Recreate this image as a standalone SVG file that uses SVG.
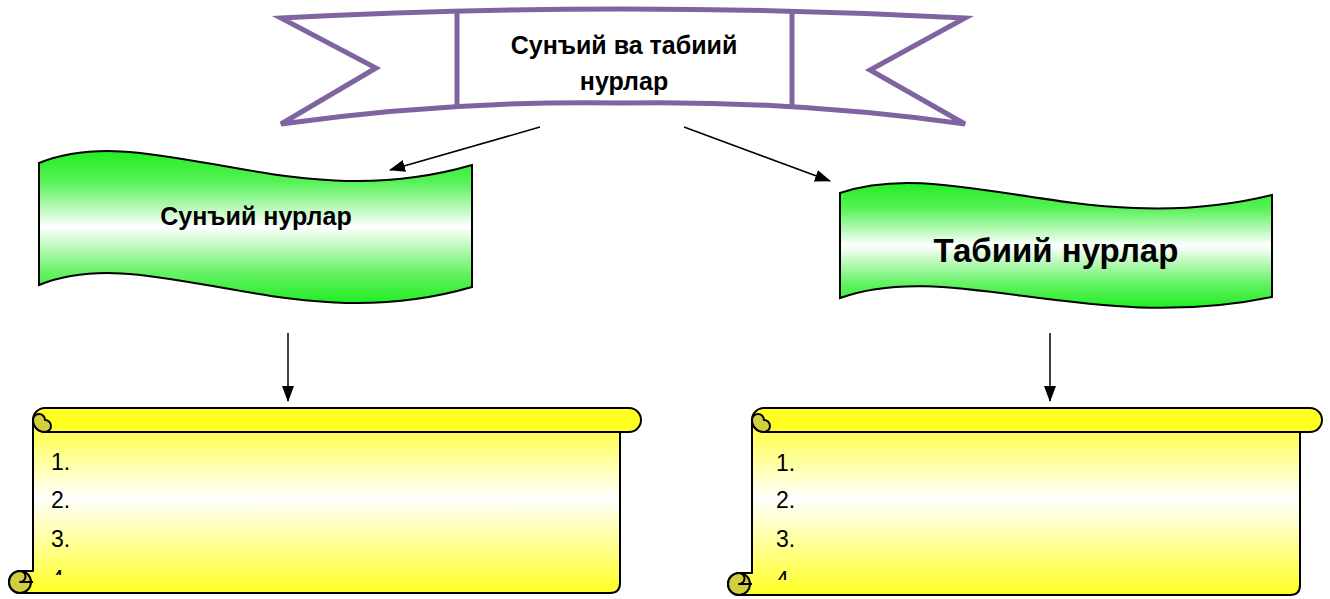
<svg xmlns="http://www.w3.org/2000/svg" width="1330" height="599" viewBox="0 0 1330 599">
  <style>
    .title { font-family: "Liberation Sans", Arial, sans-serif; font-weight: bold; fill: #000; text-anchor: middle; }
    .num { font-family: "Liberation Sans", Arial, sans-serif; font-size: 23px; fill: #000; }
    .ribbon { fill: #fff; stroke: #8064A2; stroke-width: 5; stroke-linejoin: miter; }
    .wave { stroke: #000; stroke-width: 2; }
    .scroll { stroke: #000; stroke-width: 2; stroke-linejoin: round; }
    .roll { fill: #FFFF22; }
    .curl { fill: #CFCF40; }
    .conn { stroke: #000; stroke-width: 1.5; fill: none; marker-end: url(#arrow); }
  </style>
  <defs>
    <marker id="arrow" viewBox="0 0 16 12" refX="15" refY="6" markerWidth="16" markerHeight="12" markerUnits="userSpaceOnUse" orient="auto">
      <path d="M0,0 L16,6 L0,12 Z" fill="#000"/>
    </marker>
    <linearGradient id="greenGrad" x1="0" y1="0" x2="0" y2="1">
      <stop offset="0" stop-color="#22EE22"/>
      <stop offset="0.2" stop-color="#55F255"/>
      <stop offset="0.5" stop-color="#FFFFFF"/>
      <stop offset="0.8" stop-color="#66F266"/>
      <stop offset="1" stop-color="#22EE22"/>
    </linearGradient>
    <linearGradient id="yellowGrad" x1="0" y1="0" x2="0" y2="1">
      <stop offset="0" stop-color="#FFFF33"/>
      <stop offset="0.45" stop-color="#FFFFFF"/>
      <stop offset="1" stop-color="#FFFF22"/>
    </linearGradient>
    <clipPath id="clipLeft"><rect x="40" y="440" width="560" height="135"/></clipPath>
    <clipPath id="clipRight"><rect x="760" y="440" width="520" height="140"/></clipPath>
  </defs>

  <!-- top ribbon -->
  <g id="node-root">
    <path class="ribbon" d="M281,18 Q623,0 965,18 L870,70 L965,124 Q790,100 623,103 Q456,100 281,124 L376,68 Z"/>
    <path class="ribbon" d="M457,13 L457,108 M792,13 L792,108" fill="none"/>
    <text class="title" x="624" y="54" font-size="25">Сунъий ва табиий</text>
    <text class="title" x="624" y="90" font-size="25">нурлар</text>
  </g>

  <!-- left wave banner -->
  <g id="node-artificial">
    <path class="wave" fill="url(#greenGrad)" d="M39,163 C150,118 290,218 472,165 L472,287 C290,340 150,240 39,285 Z"/>
    <text class="title" x="256" y="225" font-size="25">Сунъий нурлар</text>
  </g>

  <!-- right wave banner -->
  <g id="node-natural">
    <path class="wave" fill="url(#greenGrad)" d="M840,193 C950,155 1090,240 1272,195 L1272,297 C1090,335 950,258 840,298 Z"/>
    <text class="title" x="1056" y="262" font-size="33">Табиий нурлар</text>
  </g>

  <!-- left scroll -->
  <g id="node-list-left">
    <path class="scroll" fill="url(#yellowGrad)" d="M33,420 L33,571 L20,571 A11,11 0 0 0 20,593 L610,593 Q620,593 620,583 L620,432 Z"/>
    <path class="scroll roll" d="M45,408 L629,408 A12,12 0 0 1 629,432 L45,432 A12,12 0 0 1 45,408 Z"/>
    <path class="scroll curl" d="M45,432 A12,12 0 0 1 33,420 A6,6 0 0 1 45,420 A6,6 0 0 1 45,432 Z"/>
    <circle class="scroll curl" cx="20" cy="582" r="11"/>
    <path class="scroll" fill="none" d="M20,571 L33,571 M20,571 A5.5,5.5 0 0 1 20,582 L33,582"/>
    <g clip-path="url(#clipLeft)">
      <text class="num" x="51" y="470">1.</text>
      <text class="num" x="51" y="508">2.</text>
      <text class="num" x="51" y="547">3.</text>
      <text class="num" x="51" y="587">4.</text>
    </g>
  </g>

  <!-- right scroll -->
  <g id="node-list-right">
    <path class="scroll" fill="url(#yellowGrad)" d="M752,420 L752,573 L739,573 A11,11 0 0 0 739,595 L1290,595 Q1300,595 1300,585 L1300,432 Z"/>
    <path class="scroll roll" d="M764,408 L1310,408 A12,12 0 0 1 1310,432 L764,432 A12,12 0 0 1 764,408 Z"/>
    <path class="scroll curl" d="M764,432 A12,12 0 0 1 752,420 A6,6 0 0 1 764,420 A6,6 0 0 1 764,432 Z"/>
    <circle class="scroll curl" cx="739" cy="584" r="11"/>
    <path class="scroll" fill="none" d="M739,573 L752,573 M739,573 A5.5,5.5 0 0 1 739,584 L752,584"/>
    <g clip-path="url(#clipRight)">
      <text class="num" x="776" y="471">1.</text>
      <text class="num" x="776" y="508">2.</text>
      <text class="num" x="776" y="547">3.</text>
      <text class="num" x="776" y="588">4.</text>
    </g>
  </g>

  <!-- connectors -->
  <g id="connectors">
    <line class="conn" x1="540" y1="127" x2="390" y2="170"/>
    <line class="conn" x1="684" y1="127" x2="830" y2="181"/>
    <line class="conn" x1="288" y1="333" x2="288" y2="401"/>
    <line class="conn" x1="1050" y1="333" x2="1050" y2="401"/>
  </g>
</svg>
